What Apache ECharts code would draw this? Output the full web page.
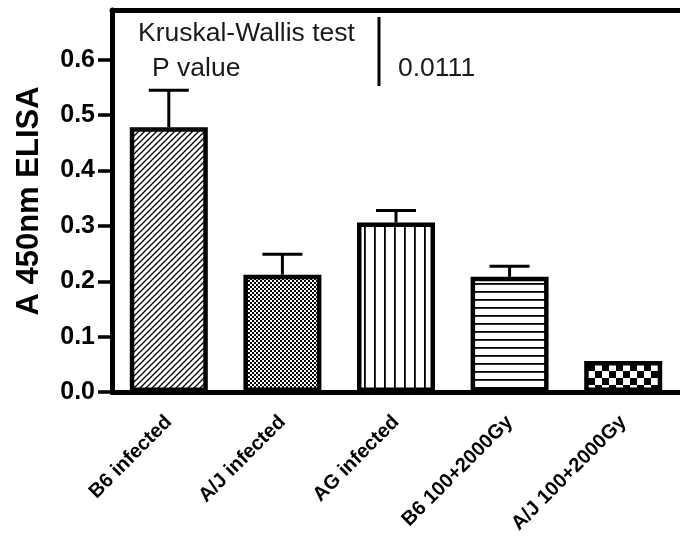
<!DOCTYPE html>
<html>
<head>
<meta charset="utf-8">
<script src="https://cdn.jsdelivr.net/npm/echarts@6/dist/echarts.min.js"></script>
<style>
  html, body { margin: 0; padding: 0; background: #fff; }
  #chart { width: 680px; height: 541px; }
</style>
</head>
<body>
<div id="chart"></div>
<script>
var groups = ["B6 infected", "A/J infected", "AG infected", "B6 100+2000Gy", "A/J 100+2000Gy"];
var means = [0.478, 0.212, 0.306, 0.208, 0.056];
var upper = [0.545, 0.249, 0.328, 0.227, 0.056];
var yTicks = [0, 0.1, 0.2, 0.3, 0.4, 0.5, 0.6];

// little canvas tiles for the Prism-style fills
function tile(w, h, draw) {
  var c = document.createElement('canvas');
  c.width = w; c.height = h;
  var g = c.getContext('2d');
  g.fillStyle = '#fff';
  g.fillRect(0, 0, w, h);
  g.strokeStyle = '#000';
  g.fillStyle = '#000';
  draw(g);
  return { image: c, repeat: 'repeat' };
}

var fills = [
  tile(6, 6, function (g) {   // diagonal hatch
    g.lineWidth = 1.3;
    g.beginPath();
    g.moveTo(-1, 7); g.lineTo(7, -1);
    g.moveTo(-4, 4); g.lineTo(4, -4);
    g.moveTo(2, 10); g.lineTo(10, 2);
    g.stroke();
  }),
  tile(4, 4, function (g) {   // fine checker
    g.fillRect(0, 0, 2, 2);
    g.fillRect(2, 2, 2, 2);
  }),
  tile(10, 10, function (g) { // vertical lines
    g.fillRect(4, 0, 1.8, 10);
  }),
  tile(8, 8, function (g) {   // horizontal lines
    g.fillRect(0, 3, 8, 1.8);
  }),
  tile(14, 14, function (g) { // coarse checker
    g.fillRect(0, 0, 7, 7);
    g.fillRect(7, 7, 7, 7);
  })
];

var chart = echarts.init(document.getElementById('chart'), null, { renderer: 'canvas' });
var font = 'Liberation Sans, Arial, sans-serif';

function note(txt, x, y) {
  return {
    type: 'text', x: x, y: y, scaleX: 1.06,
    style: { text: txt, fontSize: 25, fontFamily: font, fill: '#1a1a1a', align: 'left', verticalAlign: 'bottom' }
  };
}

chart.setOption({
  animation: false,
  grid: { left: 112, right: -8, top: 10, bottom: 149 },
  xAxis: [{
    type: 'category',
    data: groups,
    axisLine: { lineStyle: { color: '#000', width: 5 } },
    axisTick: { alignWithLabel: true, length: 12, lineStyle: { width: 3.5, color: '#000' } },
    axisLabel: { rotate: 45, margin: 27, color: '#000', fontWeight: 'bold', fontSize: 20, fontFamily: font }
  }, {
    type: 'category',
    data: groups,
    position: 'top',
    axisLine: { lineStyle: { color: '#000', width: 5 } },
    axisTick: { show: false },
    axisLabel: { show: false }
  }],
  yAxis: {
    type: 'value',
    min: 0,
    max: 0.69,
    interval: 0.1,
    name: 'A 450nm ELISA',
    nameLocation: 'middle',
    nameGap: 67,
    nameTextStyle: { color: '#000', fontWeight: 'bold', fontSize: 31, fontFamily: font },
    splitLine: { show: false },
    axisLine: { show: true, lineStyle: { color: '#000', width: 5 } },
    axisTick: { show: true, length: 14, customValues: yTicks, lineStyle: { width: 3.5, color: '#000' } },
    axisLabel: {
      customValues: yTicks,
      margin: 17,
      color: '#000', fontWeight: 'bold', fontSize: 25, fontFamily: font,
      formatter: function (v) { return v.toFixed(1); }
    }
  },
  series: [{
    type: 'bar',
    barWidth: 78,
    data: means.map(function (v, i) {
      return { value: v, itemStyle: { color: fills[i] } };
    }),
    itemStyle: { borderColor: '#000', borderWidth: 4.5 },
    z: 2
  }, {
    type: 'custom',
    z: 3,
    data: means.map(function (v, i) { return [i, v, upper[i]]; }),
    renderItem: function (params, api) {
      var lo = api.coord([api.value(0), api.value(1)]);
      var hi = api.coord([api.value(0), api.value(2)]);
      if (hi[1] >= lo[1] - 1) return { type: 'group', children: [] };
      var st = { stroke: '#000', lineWidth: 3 };
      return {
        type: 'group',
        children: [
          { type: 'line', shape: { x1: lo[0], y1: lo[1], x2: hi[0], y2: hi[1] }, style: st },
          { type: 'line', shape: { x1: hi[0] - 20, y1: hi[1], x2: hi[0] + 20, y2: hi[1] }, style: st }
        ]
      };
    }
  }],
  graphic: [
    note('Kruskal-Wallis test', 138, 47),
    note('P value', 152, 82),
    note('0.0111', 398, 82),
    { type: 'line', shape: { x1: 379, y1: 17, x2: 379, y2: 86 }, style: { stroke: '#000', lineWidth: 3 } }
  ]
});
</script>
</body>
</html>
